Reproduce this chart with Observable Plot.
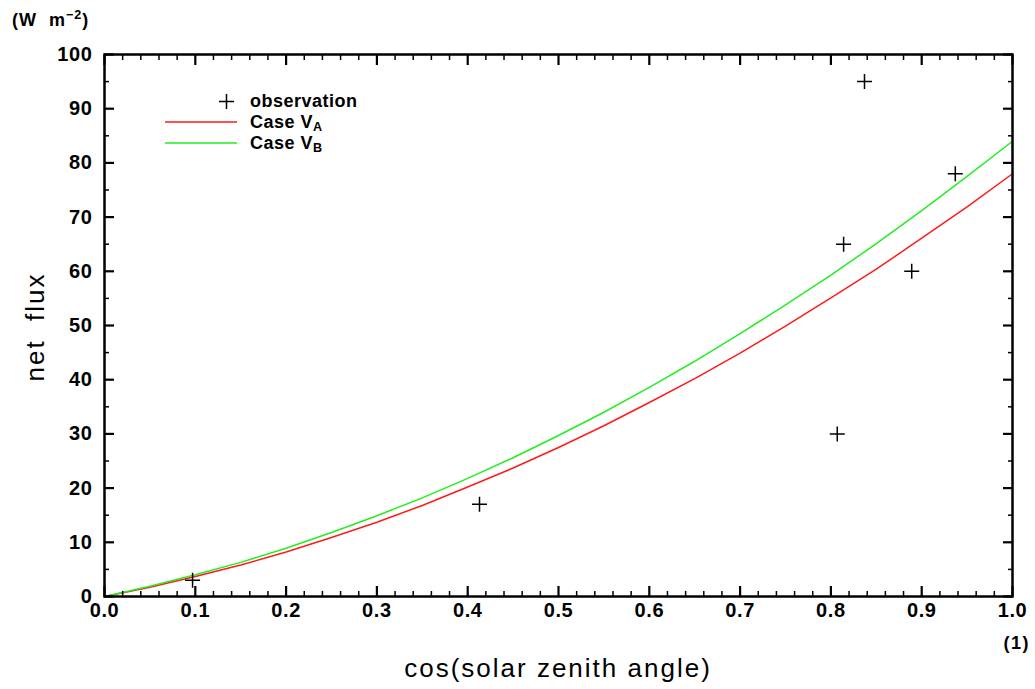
<!DOCTYPE html>
<html><head><meta charset="utf-8">
<script src="https://cdn.jsdelivr.net/npm/d3@7"></script>
<script src="https://cdn.jsdelivr.net/npm/@observablehq/plot@0.6"></script>
<style>
body{margin:0;background:#fff;}
#wrap{position:relative;width:1035px;height:689px;font-family:"Liberation Sans",Arial,sans-serif;color:#000;}
.lbl{position:absolute;white-space:nowrap;line-height:1;}
.b{font-weight:bold;}
sub{font-size:0.7em;vertical-align:-0.25em;}
sup{font-size:0.7em;vertical-align:0.55em;}
</style></head><body><div id="wrap"></div>
<script>
// curves
const cosZ   = [0,0.05,0.1,0.15,0.2,0.25,0.3,0.35,0.4,0.45,0.5,0.55,0.6,0.65,0.7,0.75,0.8,0.85,0.9,0.95,1.0];
const caseVA = [0,1.7,3.7,5.8,8.2,10.9,13.7,16.8,20.2,23.7,27.5,31.5,35.8,40.2,44.9,49.9,55.1,60.4,66.1,71.9,78.0];
const caseVB = [0,1.9,4.0,6.3,8.9,11.8,14.9,18.2,21.8,25.6,29.7,34.0,38.6,43.4,48.5,53.8,59.3,65.1,71.2,77.5,84.0];
// observations
const obsX = [0.097,0.413,0.807,0.814,0.837,0.889,0.937];
const obsY = [3,17,30,65,95,60,78];
// ticks
const xTicks = [0,0.1,0.2,0.3,0.4,0.5,0.6,0.7,0.8,0.9,1.0];
const xMinor = [0.02,0.04,0.06,0.08,0.12,0.14,0.16,0.18,0.22,0.24,0.26,0.28,0.32,0.34,0.36,0.38,0.42,0.44,0.46,0.48,0.52,0.54,0.56,0.58,0.62,0.64,0.66,0.68,0.72,0.74,0.76,0.78,0.82,0.84,0.86,0.88,0.92,0.94,0.96,0.98];
const yTicks = [0,10,20,30,40,50,60,70,80,90,100];
const yMinor = [5,15,25,35,45,55,65,75,85,95];

const RED = "#ff1a1a", GREEN = "#22ee22";
const curveA = cosZ.map((x,i)=>({x, y:caseVA[i]}));
const curveB = cosZ.map((x,i)=>({x, y:caseVB[i]}));
const obs = obsX.map((x,i)=>({x, y:obsY[i]}));

const plusSymbol = {draw(ctx, size){ const r = Math.sqrt(size/Math.PI); ctx.moveTo(-r,0); ctx.lineTo(r,0); ctx.moveTo(0,-r); ctx.lineTo(0,r); }};

const chart = Plot.plot({
  width:1035, height:689,
  marginLeft:104, marginRight:23, marginTop:54, marginBottom:93,
  x:{domain:[0,1]}, y:{domain:[0,100]},
  style:{fontFamily:'"Liberation Sans",Arial,sans-serif', fontSize:"20px", fontWeight:"bold", letterSpacing:"0.6px", color:"#000", background:"white", overflow:"visible"},
  marks:[
    Plot.line(curveA, {x:"x", y:"y", stroke:RED, strokeWidth:1.5}),
    Plot.line(curveB, {x:"x", y:"y", stroke:GREEN, strokeWidth:1.5}),
    Plot.dot(obs, {x:"x", y:"y", r:7.5, symbol:plusSymbol, stroke:"#000", strokeWidth:1.5, fill:"none"}),
    Plot.axisX({anchor:"bottom", ticks:xTicks, tickSize:-10, fill:"none", label:null, strokeWidth:2.2}),
    Plot.axisX({anchor:"bottom", ticks:xMinor, tickSize:-5, fill:"none", label:null, strokeWidth:1.5}),
    Plot.axisX({anchor:"top", ticks:xTicks, tickSize:-10, fill:"none", label:null, strokeWidth:2.2}),
    Plot.axisX({anchor:"top", ticks:xMinor, tickSize:-5, fill:"none", label:null, strokeWidth:1.5}),
    Plot.axisY({anchor:"left", ticks:yTicks, tickSize:-10, fill:"none", label:null, strokeWidth:2.2}),
    Plot.axisY({anchor:"left", ticks:yMinor, tickSize:-5, fill:"none", label:null, strokeWidth:1.5}),
    Plot.axisY({anchor:"right", ticks:yTicks, tickSize:-10, fill:"none", label:null, strokeWidth:2.2}),
    Plot.axisY({anchor:"right", ticks:yMinor, tickSize:-5, fill:"none", label:null, strokeWidth:1.5}),
    Plot.axisX({anchor:"bottom", ticks:xTicks, tickSize:0, tickPadding:6, tickFormat:d=>d.toFixed(1), label:null}),
    Plot.axisY({anchor:"left", ticks:yTicks, tickSize:0, tickPadding:12, tickFormat:d=>String(d), label:null}),
    Plot.frame({stroke:"#000", strokeWidth:2.5})
  ]
});
const wrap = document.getElementById("wrap");
wrap.appendChild(chart);

function addLabel(html, css, cls){ const d=document.createElement("div"); d.className="lbl "+(cls||""); d.innerHTML=html; Object.assign(d.style, css); wrap.appendChild(d); return d; }
addLabel("(W&nbsp;&nbsp;m<sup>−2</sup>)", {left:"12px", top:"9px", fontSize:"18px", letterSpacing:"1px"}, "b");
addLabel("(1)", {right:"5px", top:"634px", fontSize:"18px", letterSpacing:"1.5px"}, "b");
addLabel("cos(solar zenith angle)", {left:"558px", top:"668px", fontSize:"26px", letterSpacing:"2px", transform:"translate(-50%,-50%)"});
addLabel("net&nbsp;&nbsp;flux", {left:"35px", top:"327px", fontSize:"26px", letterSpacing:"2px", transform:"translate(-50%,-50%) rotate(-90deg)"});

// legend
const leg = document.createElement("div");
leg.style.cssText = "position:absolute;left:160px;top:88px;";
leg.innerHTML = `
<svg width="82" height="66" style="position:absolute;left:0;top:0">
  <path d="M59,13.5 H74 M66.5,6 V21" stroke="#000" stroke-width="1.5" fill="none"/>
  <line x1="5" x2="77" y1="34" y2="34" stroke="${RED}" stroke-width="1.5"/>
  <line x1="5" x2="77" y1="55" y2="55" stroke="${GREEN}" stroke-width="1.5"/>
</svg>
<div class="lbl b" style="left:90px;top:4px;font-size:18px;letter-spacing:0.5px">observation</div>
<div class="lbl b" style="left:90px;top:25px;font-size:18px;letter-spacing:0.5px">Case&nbsp;V<sub>A</sub></div>
<div class="lbl b" style="left:90px;top:46px;font-size:18px;letter-spacing:0.5px">Case&nbsp;V<sub>B</sub></div>`;
wrap.appendChild(leg);
</script></body></html>
